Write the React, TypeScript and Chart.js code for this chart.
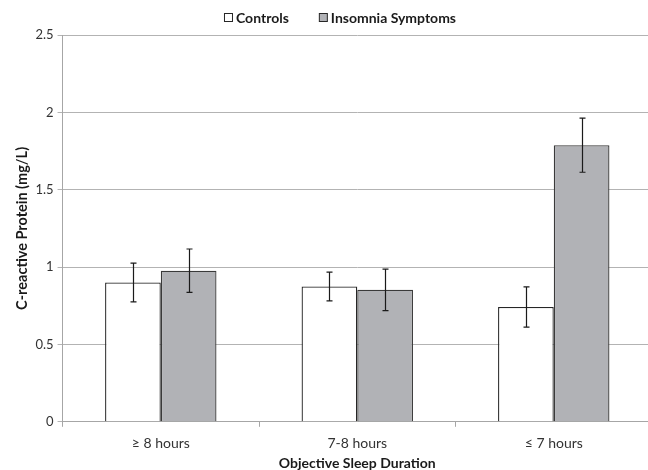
import React, { useEffect, useRef } from "react";
import { Chart, registerables } from "chart.js";

Chart.register(...registerables);

const categories = ["≥ 8 hours", "7-8 hours", "≤ 7 hours"];
const controls = [0.9, 0.875, 0.742];
const controlsErr = [0.125, 0.093, 0.13];
const insomnia = [0.977, 0.853, 1.788];
const insomniaErr = [0.14, 0.134, 0.175];
const seriesNames = ["Controls", "Insomnia Symptoms"];
const yTicks = [0, 0.5, 1, 1.5, 2, 2.5];

const FONT = "Lato, 'Open Sans', sans-serif";

const errorBarPlugin = {
  id: "errorBars",
  afterDatasetsDraw(chart: any) {
    const ctx = chart.ctx;
    const y = chart.scales.y;
    const errs = [controlsErr, insomniaErr];
    const vals = [controls, insomnia];
    ctx.save();
    ctx.strokeStyle = "#1a1a1a";
    ctx.lineWidth = 1.2;
    chart.data.datasets.forEach((ds: any, di: number) => {
      const meta = chart.getDatasetMeta(di);
      meta.data.forEach((bar: any, i: number) => {
        const x = Math.round(bar.x) + 0.5;
        const top = y.getPixelForValue(vals[di][i] + errs[di][i]);
        const bot = y.getPixelForValue(vals[di][i] - errs[di][i]);
        ctx.beginPath();
        ctx.moveTo(x, top);
        ctx.lineTo(x, bot);
        ctx.moveTo(x - 3, top);
        ctx.lineTo(x + 3, top);
        ctx.moveTo(x - 3, bot);
        ctx.lineTo(x + 3, bot);
        ctx.stroke();
      });
    });
    ctx.restore();
  },
};

const legendPlugin = {
  id: "customLegend",
  afterDraw(chart: any) {
    const ctx = chart.ctx;
    const ds = chart.data.datasets;
    ctx.save();
    ctx.font = `bold 14px ${FONT}`;
    ctx.textBaseline = "middle";
    const box = 8;
    const gapText = 4;
    const gapItem = 30;
    const widths = ds.map((d: any) => box + gapText + ctx.measureText(d.label).width);
    const total = widths.reduce((a: number, b: number) => a + b, 0) + gapItem * (ds.length - 1);
    let x = 340 - total / 2;
    const cy = 17;
    ds.forEach((d: any, i: number) => {
      ctx.fillStyle = d.backgroundColor;
      ctx.fillRect(x + 0.5, cy - box / 2 + 0.5, box, box);
      ctx.strokeStyle = "#262626";
      ctx.lineWidth = 1;
      ctx.strokeRect(x + 0.5, cy - box / 2 + 0.5, box, box);
      ctx.fillStyle = "#1a1a1a";
      ctx.textAlign = "left";
      ctx.fillText(d.label, x + box + gapText, cy + 1);
      x += widths[i] + gapItem;
    });
    ctx.restore();
  },
};

export default function App() {
  const ref = useRef<HTMLCanvasElement | null>(null);
  useEffect(() => {
    if (!ref.current) return;
    const chart = new Chart(ref.current, {
      type: "bar",
      data: {
        labels: categories,
        datasets: [
          {
            label: seriesNames[0],
            data: controls,
            backgroundColor: "#ffffff",
            borderColor: "#262626",
            borderWidth: 1.3,
            barPercentage: 1,
            categoryPercentage: 0.567,
          },
          {
            label: seriesNames[1],
            data: insomnia,
            backgroundColor: "#b1b2b6",
            borderColor: "#3a3a3a",
            borderWidth: 1.3,
            barPercentage: 1,
            categoryPercentage: 0.567,
          },
        ],
      },
      options: {
        responsive: false,
        animation: false,
        layout: { padding: { left: 10, right: 0, top: 35, bottom: 1 } },
        plugins: {
          legend: { display: false },
          tooltip: { enabled: false },
        },
        scales: {
          x: {
            grid: {
              drawOnChartArea: false,
              offset: true,
              tickLength: 5,
              color: "#a6a6a6",
            },
            border: { color: "#a6a6a6" },
            ticks: { color: "#333", font: { family: FONT, size: 14 }, padding: 8 },
            title: {
              display: true,
              text: "Objective Sleep Duration",
              color: "#1a1a1a",
              font: { family: FONT, size: 14, weight: "bold", lineHeight: 1.1 },
              padding: { top: -4, bottom: -2 },
            },
          },
          y: {
            min: 0,
            max: 2.5,
            afterBuildTicks: (s: any) => {
              s.ticks = yTicks.map((v) => ({ value: v }));
            },
            grid: { color: "#b3b3b3", tickLength: 5 },
            border: { color: "#a6a6a6" },
            ticks: {
              color: "#333",
              font: { family: FONT, size: 13 },
              padding: 4,
              callback: (v: any) => String(v),
            },
            title: {
              display: true,
              text: "C-reactive Protein (mg/L)",
              color: "#1a1a1a",
              font: { family: FONT, size: 14.5, weight: "bold" },
              padding: { top: 4, bottom: 0 },
            },
          },
        },
      },
      plugins: [errorBarPlugin, legendPlugin],
    });
    return () => chart.destroy();
  }, []);
  return (
    <div style={{ position: "fixed", left: 0, top: 0, width: 648, height: 470, overflow: "hidden", background: "#fff" }}>
      <canvas ref={ref} width={652} height={470} />
    </div>
  );
}
